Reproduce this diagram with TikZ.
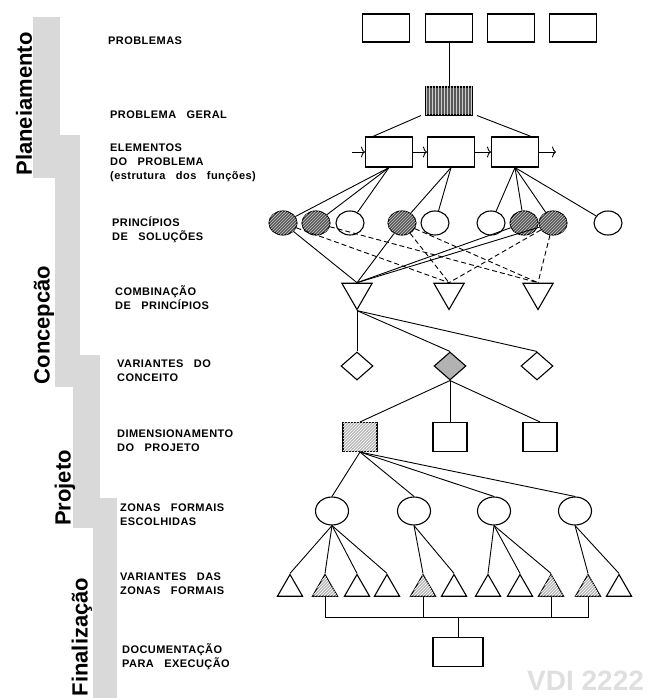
\documentclass[tikz,border=0pt]{standalone}
\usepackage{fontspec}
\setmainfont{Liberation Sans}
\newfontfamily\stagefont[LetterSpace=4,WordSpace=3]{Liberation Sans}
\usetikzlibrary{shapes.geometric,patterns,calc,arrows.meta}

\begin{document}
\begin{tikzpicture}[x=1pt,y=-1pt,
  phase bar/.style={fill=gray!30},
  phase/.style={rotate=90,inner sep=0pt,font=\bfseries\fontsize{22}{22}\selectfont},
  stage/.style={anchor=west,align=left,inner sep=0pt,font=\stagefont\bfseries\fontsize{11}{14}\selectfont},
  box/.style={draw,line width=1.1pt,minimum width=47pt,minimum height=28pt,inner sep=0pt},
  ring/.style={ellipse,draw,line width=1.1pt,minimum width=28pt,minimum height=24pt,inner sep=0pt},
  comb/.style={regular polygon,regular polygon sides=3,shape border rotate=180,draw,line width=1.1pt,minimum size=35pt,inner sep=0pt},
  conc/.style={diamond,draw,line width=1.1pt,minimum width=32pt,minimum height=28pt,inner sep=0pt},
  dimbox/.style={draw,line width=1.1pt,minimum width=34pt,minimum height=29pt,inner sep=0pt},
  zone/.style={ellipse,draw,line width=1.1pt,minimum width=33pt,minimum height=28pt,inner sep=0pt},
  vz/.style={regular polygon,regular polygon sides=3,draw,line width=1.1pt,minimum size=29pt,inner sep=0pt},
  dark/.style={fill=black!65,postaction={pattern=north east lines,pattern color=gray!45}},
  geral fill/.style={fill=black!65,postaction={pattern=vertical lines,pattern color=gray!40}},
  light/.style={fill=gray!55,postaction={pattern=north east lines,pattern color=white}},
  link/.style={line width=0.9pt},
  flow/.style={line width=0.9pt,-{To[length=4pt,width=11pt]}},
  dashlink/.style={line width=0.9pt,dash pattern=on 5pt off 3pt}]
  \useasboundingbox (0,0) rectangle (661,698);
  \fill[phase bar] (33,17) rectangle (60,178);
  \fill[phase bar] (55,135) rectangle (80,387);
  \fill[phase bar] (73,355) rectangle (100,528);
  \fill[phase bar] (93,498) rectangle (117,698);
  \node[phase] (plan label) at (24,104) {Planeiamento};
  \node[phase] (conc label) at (44,325) {Concepcão};
  \node[phase] (proj label) at (65,488) {Projeto};
  \node[phase] (final label) at (82,637) {Finalização};

  \node[stage] (problemas) at (108,41) {PROBLEMAS};
  \node[stage] (problema geral) at (110,115) {PROBLEMA GERAL};
  \node[stage] (elementos) at (110,163) {ELEMENTOS\\DO PROBLEMA\\(estrutura dos funções)};
  \node[stage] (principios) at (112,230) {PRINCÍPIOS\\DE SOLUÇÕES};
  \node[stage] (combinacao) at (115,298) {COMBINAÇÃO\\DE PRINCÍPIOS};
  \node[stage] (variantes) at (117,371) {VARIANTES DO\\CONCEITO};
  \node[stage] (dimensionamento) at (117,441) {DIMENSIONAMENTO\\DO PROJETO};
  \node[stage] (zonas) at (120,515) {ZONAS FORMAIS\\ESCOLHIDAS};
  \node[stage] (variantes zonas) at (120,584) {VARIANTES DAS\\ZONAS FORMAIS};
  \node[stage] (documentacao) at (122,657) {DOCUMENTAÇÃO\\PARA EXECUÇÃO};

  \node[box] (prob 1) at (386,28) {};
  \node[box] (prob 2) at (449,28) {};
  \node[box] (prob 3) at (511,28) {};
  \node[box] (prob 4) at (573,28) {};
  \node[box,geral fill] (geral) at (449,101) {};
  \node[box,minimum height=30pt] (elem 1) at (389,152) {};
  \node[box,minimum height=30pt] (elem 2) at (451,152) {};
  \node[box,minimum height=30pt] (elem 3) at (515,152) {};
  \coordinate (elem in) at (352,152);
  \coordinate (elem out) at (556,152);

  \node[ring,dark] (princ 1) at (283,223) {};
  \node[ring,dark] (princ 2) at (316,223) {};
  \node[ring] (princ 3) at (350,223) {};
  \node[ring,dark] (princ 4) at (402,223) {};
  \node[ring] (princ 5) at (435,223) {};
  \node[ring] (princ 6) at (491,223) {};
  \node[ring,dark] (princ 7) at (524,223) {};
  \node[ring,dark] (princ 8) at (553,223) {};
  \node[ring] (princ 9) at (608,223) {};

  \node[comb] (comb 1) at (357,292) {};
  \node[comb] (comb 2) at (449,292) {};
  \node[comb] (comb 3) at (538,292) {};

  \node[conc] (conc 1) at (357,366) {};
  \node[conc,fill=gray!60] (conc 2) at (450,366) {};
  \node[conc] (conc 3) at (537,366) {};

  \node[dimbox,light] (dim 1) at (360,437) {};
  \node[dimbox] (dim 2) at (450,437) {};
  \node[dimbox] (dim 3) at (540,437) {};

  \node[zone] (zona 1) at (332,511) {};
  \node[zone] (zona 2) at (414,511) {};
  \node[zone] (zona 3) at (494,511) {};
  \node[zone] (zona 4) at (575,511) {};

  \node[vz] (vz 1) at (290,589) {};
  \node[vz,light] (vz 2) at (325,589) {};
  \node[vz] (vz 3) at (357,589) {};
  \node[vz] (vz 4) at (387,589) {};
  \node[vz,light] (vz 5) at (423,589) {};
  \node[vz] (vz 6) at (454,589) {};
  \node[vz] (vz 7) at (488,589) {};
  \node[vz] (vz 8) at (520,589) {};
  \node[vz,light] (vz 9) at (551,589) {};
  \node[vz,light] (vz 10) at (588,589) {};
  \node[vz] (vz 11) at (619,589) {};

  \node[box,minimum width=50pt,minimum height=29pt] (doc) at (458,652) {};
  \coordinate (join) at ($(doc.north)+(0,-20)$);

  \node[anchor=base west,inner sep=0pt,text=gray!25,font=\bfseries\fontsize{28}{28}\selectfont] (vdi) at (527,690) {VDI 2222};

  \draw[link] (prob 2) -- (geral);
  \draw[link] ([xshift=-4pt]geral.south west) -- ([xshift=8pt]elem 1.north west);
  \draw[link] ([xshift=4pt]geral.south east) -- ([xshift=-8pt]elem 3.north east);
  \draw[flow] (elem in) -- (elem 1.west);
  \draw[flow] (elem 1.east) -- (elem 2.west);
  \draw[flow] (elem 2.east) -- (elem 3.west);
  \draw[flow] (elem 3.east) -- (elem out);

  \draw[link] (elem 1.south) -- (princ 1);
  \draw[link] (elem 1.south) -- (princ 2);
  \draw[link] (elem 1.south) -- (princ 3);
  \draw[link] (elem 2.south) -- (princ 4);
  \draw[link] (elem 2.south) -- (princ 5);
  \draw[link] (elem 3.south) -- (princ 6);
  \draw[link] (elem 3.south) -- (princ 7);
  \draw[link] (elem 3.south) -- (princ 8);
  \draw[link] (elem 3.south) -- (princ 9);

  \draw[link] (princ 1) -- (comb 1.north);
  \draw[link] (princ 4) -- (comb 1.north);
  \draw[link] (princ 7) -- (comb 1.north);
  \draw[link] (princ 8) -- (comb 1.north);
  \draw[dashlink] (princ 1) -- (comb 2.north);
  \draw[dashlink] (princ 4) -- (comb 2.north);
  \draw[dashlink] (princ 8) -- (comb 2.north);
  \draw[dashlink] (princ 2) -- (comb 3.north);
  \draw[dashlink] (princ 4) -- (comb 3.north);
  \draw[dashlink] (princ 8) -- (comb 3.north);

  \draw[link] (comb 1.south) -- (conc 1.north);
  \draw[link] (comb 1.south) -- (conc 2.north);
  \draw[link] (comb 1.south) -- (conc 3.north);
  \draw[link] (conc 2.south) -- (dim 1.north);
  \draw[link] (conc 2.south) -- (dim 2.north);
  \draw[link] (conc 2.south) -- (dim 3.north);
  \draw[link] (dim 1.south) -- (zona 1.north);
  \draw[link] (dim 1.south) -- (zona 2.north);
  \draw[link] (dim 1.south) -- (zona 3.north);
  \draw[link] (dim 1.south) -- (zona 4.north);

  \draw[link] (zona 1.south) -- (vz 1.north);
  \draw[link] (zona 1.south) -- (vz 2.north);
  \draw[link] (zona 1.south) -- (vz 3.north);
  \draw[link] (zona 1.south) -- (vz 4.north);
  \draw[link] (zona 2.south) -- (vz 5.north);
  \draw[link] (zona 2.south) -- (vz 6.north);
  \draw[link] (zona 3.south) -- (vz 7.north);
  \draw[link] (zona 3.south) -- (vz 8.north);
  \draw[link] (zona 3.south) -- (vz 9.north);
  \draw[link] (zona 4.south) -- (vz 10.north);
  \draw[link] (zona 4.south) -- (vz 11.north);

  \draw[link] (vz 2.south) -- (vz 2.south |- join) -- (vz 10.south |- join) -- (vz 10.south);
  \draw[link] (vz 5.south) -- (vz 5.south |- join);
  \draw[link] (vz 9.south) -- (vz 9.south |- join);
  \draw[link] (join) -- (doc.north);
\end{tikzpicture}
\end{document}
